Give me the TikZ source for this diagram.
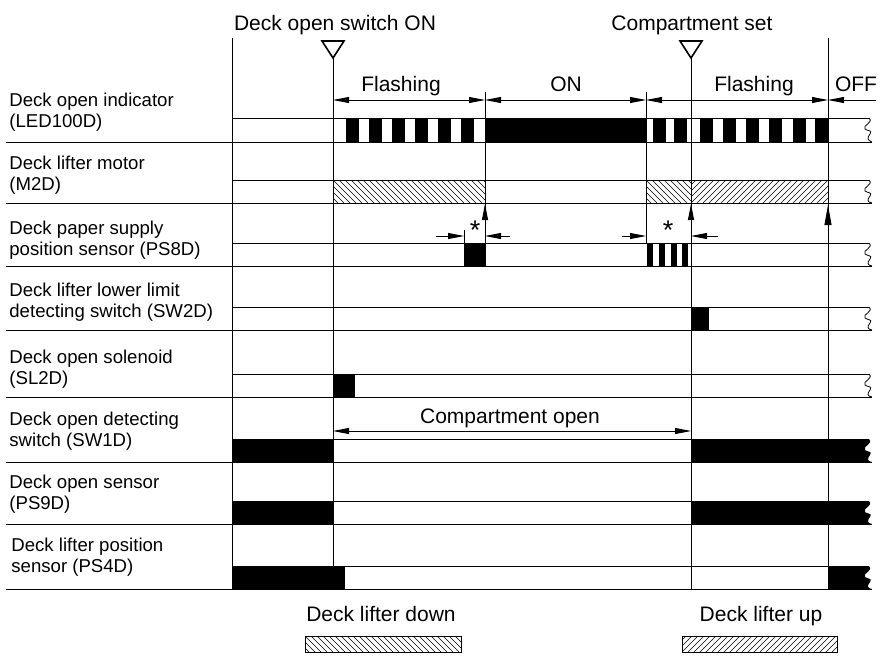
\documentclass[tikz,border=0pt]{standalone}
\usepackage{fontspec}
\setmainfont{Liberation Sans}
\usetikzlibrary{arrows.meta}
\begin{document}
\begin{tikzpicture}[x=1pt,y=-1pt,line width=0.8pt,
  arr/.style={-{Triangle[length=16pt,width=6pt]}},
  darr/.style={{Triangle[length=16pt,width=6pt]}-{Triangle[length=16pt,width=6pt]}},
  lbl/.style={anchor=base west,inner sep=0pt,font=\fontsize{18.6}{21}\selectfont},
  big/.style={anchor=base,inner sep=0pt,font=\fontsize{21}{25}\selectfont},
  star/.style={inner sep=0pt,font=\fontsize{27}{30}\selectfont},
  hat/.style={line width=0.6pt},
  mark tri/.style={line width=1.6pt,line join=miter},
  sq/.style 2 args={insert path={.. controls (874,{#1+5}) and (862,{#1+7}) .. (865,{#1+11}) .. controls (867,{#1+13}) and (873,{#1+12}) .. (870,{#1+16}) .. controls (867,{#1+20}) and (867,{#1+22}) .. (872,#2)}}]
\useasboundingbox (0,0) rectangle (885,664);

% row labels
\node[lbl] (l1a) at (9,106) {Deck open indicator};
\node[lbl] (l1b) at (9,127) {(LED100D)};
\node[lbl] (l2a) at (9,169) {Deck lifter motor};
\node[lbl] (l2b) at (9,190) {(M2D)};
\node[lbl] (l3a) at (9,234) {Deck paper supply};
\node[lbl] (l3b) at (9,255) {position sensor (PS8D)};
\node[lbl] (l4a) at (9,296) {Deck lifter lower limit};
\node[lbl] (l4b) at (9,317) {detecting switch (SW2D)};
\node[lbl] (l5a) at (9,363) {Deck open solenoid};
\node[lbl] (l5b) at (9,384) {(SL2D)};
\node[lbl] (l6a) at (9,425) {Deck open detecting};
\node[lbl] (l6b) at (9,446) {switch (SW1D)};
\node[lbl] (l7a) at (9,488) {Deck open sensor};
\node[lbl] (l7b) at (9,509) {(PS9D)};
\node[lbl] (l8a) at (11,551) {Deck lifter position};
\node[lbl] (l8b) at (11,572) {sensor (PS4D)};

% band lines
\foreach \yt/\yb in {118/142,180/203,243/266,307/330,374/397,439/462,501/524,566/589}{
  \draw (232,\yt) -- (869,\yt);
  \draw (6,\yb) -- (872,\yb);
}
\foreach \yt/\yb in {118/142,180/203,243/266,307/330,374/397}{
  \draw (869,\yt) [sq={\yt}{\yb}];
}

% vertical lines
\draw (232,38) -- (232,589);
\draw (828,38) -- (828,589);
\draw (333,58) -- (333,589);
\draw (691,58) -- (691,589);
\draw (485,92) -- (485,266);
\draw (646,92) -- (646,243);

% event markers
\draw[mark tri] (322,41) -- (344,41) -- (333,58) -- cycle;
\draw[mark tri] (680,41) -- (702,41) -- (691,58) -- cycle;
\node[big] (ev1) at (335,30) {Deck open switch ON};
\node[big] (ev2) at (692,30) {Compartment set};

% top arrows
\draw[darr] (333,100) -- (485,100);
\draw[darr] (485,100) -- (646,100);
\draw[darr] (646,100) -- (828,100);
\draw[arr] (876,100) -- (828,100);
\node[big] (fl1) at (401,91) {Flashing};
\node[big] (on) at (566,91) {ON};
\node[big] (fl2) at (754,91) {Flashing};
\node[big] (off) at (856,91) {OFF};

% LED
\foreach \s in {346,369,392,415,438,461} \fill (\s,118) rectangle ++(13,24);
\fill (485,118) rectangle (646,142);
\foreach \s in {653,674,700,723,746,769,793,815} \fill (\s,118) rectangle ++(13,24);

% M2D hatches
\begin{scope}
\clip (333,180) rectangle (485,203);
\foreach \i in {-4,...,26} \draw[hat] ({333+6*\i},180) -- ++(23,23);
\end{scope}
\begin{scope}
\clip (646,180) rectangle (691,203);
\foreach \i in {-4,...,8} \draw[hat] ({646+6*\i},180) -- ++(23,23);
\end{scope}
\begin{scope}
\clip (691,180) rectangle (828,203);
\foreach \i in {-4,...,24} \draw[hat] ({691+6*\i},203) -- ++(23,-23);
\end{scope}

% PS8D
\fill (464,243) rectangle (485,266);
\foreach \s in {647,659,671,682} \fill (\s,243) rectangle ++(6,23);
\draw[arr] (436,236) -- (464,236);
\draw (464,230) -- (464,243);
\draw[arr] (510,236) -- (485,236);
\node[star] (st1) at (475,230) {*};
\draw[arr] (622,236) -- (646,236);
\draw[arr] (718,236) -- (691,236);
\node[star] (st2) at (668,230) {*};
\draw[arr] (485,228) -- (485,204);
\draw[arr] (691,228) -- (691,204);
\draw[-{Triangle[length=20pt,width=7pt]}] (828,232) -- (828,205);

% SW2D, SL2D
\fill (691,307) rectangle (709,330);
\fill (333,374) rectangle (355,397);

% SW1D
\fill (232,439) rectangle (333,462);
\fill (691,439) -- (869,439) [sq={439}{462}] -- (691,462) -- cycle;
\draw[darr] (333,431) -- (691,431);
\node[big] (co) at (510,423) {Compartment open};
% PS9D
\fill (232,501) rectangle (333,524);
\fill (691,501) -- (869,501) [sq={501}{524}] -- (691,524) -- cycle;
% PS4D
\fill (232,566) rectangle (345,589);
\fill (828,566) -- (869,566) [sq={566}{589}] -- (828,589) -- cycle;

% legend
\node[big] (lgd) at (381,621) {Deck lifter down};
\node[big] (lgu) at (761,621) {Deck lifter up};
\begin{scope}
\clip (305,636) rectangle (461,652);
\foreach \i in {-4,...,27} \draw[hat] ({305+6*\i},636) -- ++(16,16);
\end{scope}
\draw (305,636) rectangle (461,652);
\begin{scope}
\clip (682,636) rectangle (837,652);
\foreach \i in {-4,...,27} \draw[hat] ({682+6*\i},652) -- ++(16,-16);
\end{scope}
\draw (682,636) rectangle (837,652);
\end{tikzpicture}
\end{document}
